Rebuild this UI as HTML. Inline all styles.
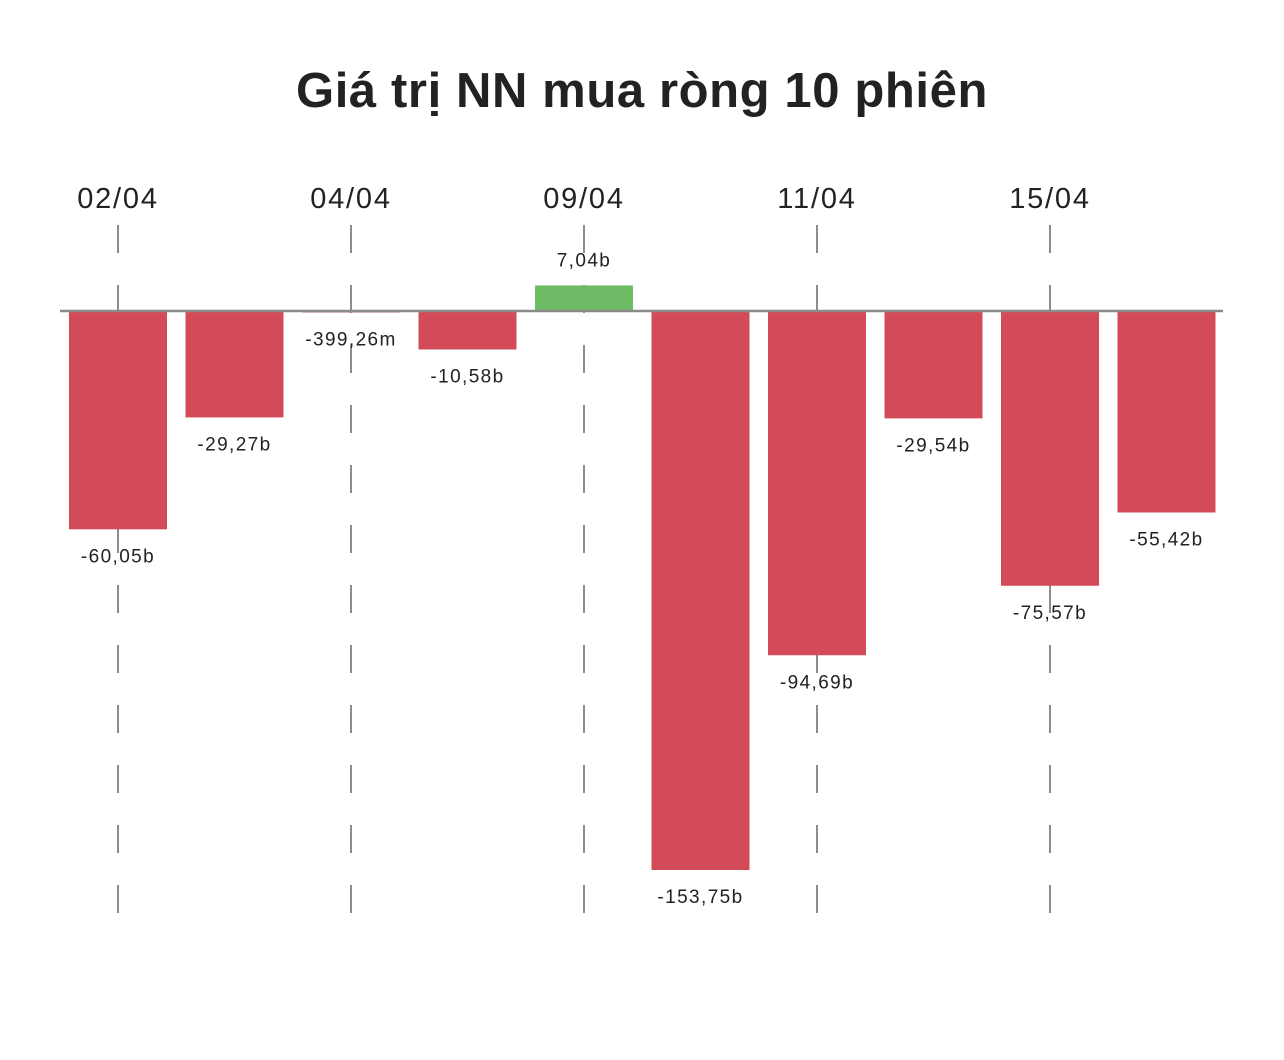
<!DOCTYPE html>
<html><head><meta charset="utf-8">
<style>
html,body{margin:0;padding:0;background:#fff;}
svg{display:block;font-family:"Liberation Sans","DejaVu Sans",sans-serif;}
</style></head>
<body>
<svg id="chart" width="1284" height="1060">
<text x="642" y="107" text-anchor="middle" font-size="49" font-weight="bold" fill="#222" letter-spacing="0.6">Giá trị NN mua ròng 10 phiên</text>
<g id="grid"></g><g id="bars"></g><g id="labels"></g>
</svg>
<script>
const categories = ["02/04","03/04","04/04","08/04","09/04","10/04","11/04","12/04","15/04","16/04"];
const values = [-60.05,-29.27,-0.39926,-10.58,7.04,-153.75,-94.69,-29.54,-75.57,-55.42];
const valueLabels = ["-60,05b","-29,27b","-399,26m","-10,58b","7,04b","-153,75b","-94,69b","-29,54b","-75,57b","-55,42b"];
const tickCategories = ["02/04","04/04","09/04","11/04","15/04"];

const NS="http://www.w3.org/2000/svg";
const svg=document.getElementById('chart');
const gGrid=document.getElementById('grid'),gBars=document.getElementById('bars'),gLab=document.getElementById('labels');
const x0=118, step=116.5, barW=98, baseY=311, k=559/153.75;
const xPos=i=>x0+i*step;
const yPos=v=>baseY-v*k;
function mk(t,a,p){const e=document.createElementNS(NS,t);for(const n in a)e.setAttribute(n,a[n]);p.appendChild(e);return e;}

tickCategories.forEach(c=>{
  const i=categories.indexOf(c);
  const x=xPos(i);
  const l=mk('line',{x1:x,x2:x,y1:225,y2:913,stroke:'#666','stroke-width':1.5,'stroke-dasharray':'28 32'},gGrid);
  
  
  const t=mk('text',{x:x,y:208,'text-anchor':'middle','font-size':29,fill:'#222','letter-spacing':'1.8'},gGrid);
  t.textContent=c;
  
  
});

values.forEach((v,i)=>{
  const x=xPos(i);
  const y1=Math.min(yPos(v),baseY), h=Math.max(Math.abs(yPos(v)-baseY),1.5);
  const r=mk('rect',{x:x-barW/2,y:y1,width:barW,height:h,fill:v>=0?'#6fba64':'#d34b59'},gBars);
  
  
  const ly=v>=0?yPos(v)-19:yPos(v)+33;
  const t=mk('text',{x:x,y:ly,'text-anchor':'middle','font-size':19,fill:'#222','letter-spacing':'1.4'},gLab);
  t.textContent=valueLabels[i];
  
  
});

const base=mk('line',{x1:60,x2:1223,y1:baseY,y2:baseY,stroke:'#8a8a8a','stroke-width':2.5},svg);


</script>
</body></html>
